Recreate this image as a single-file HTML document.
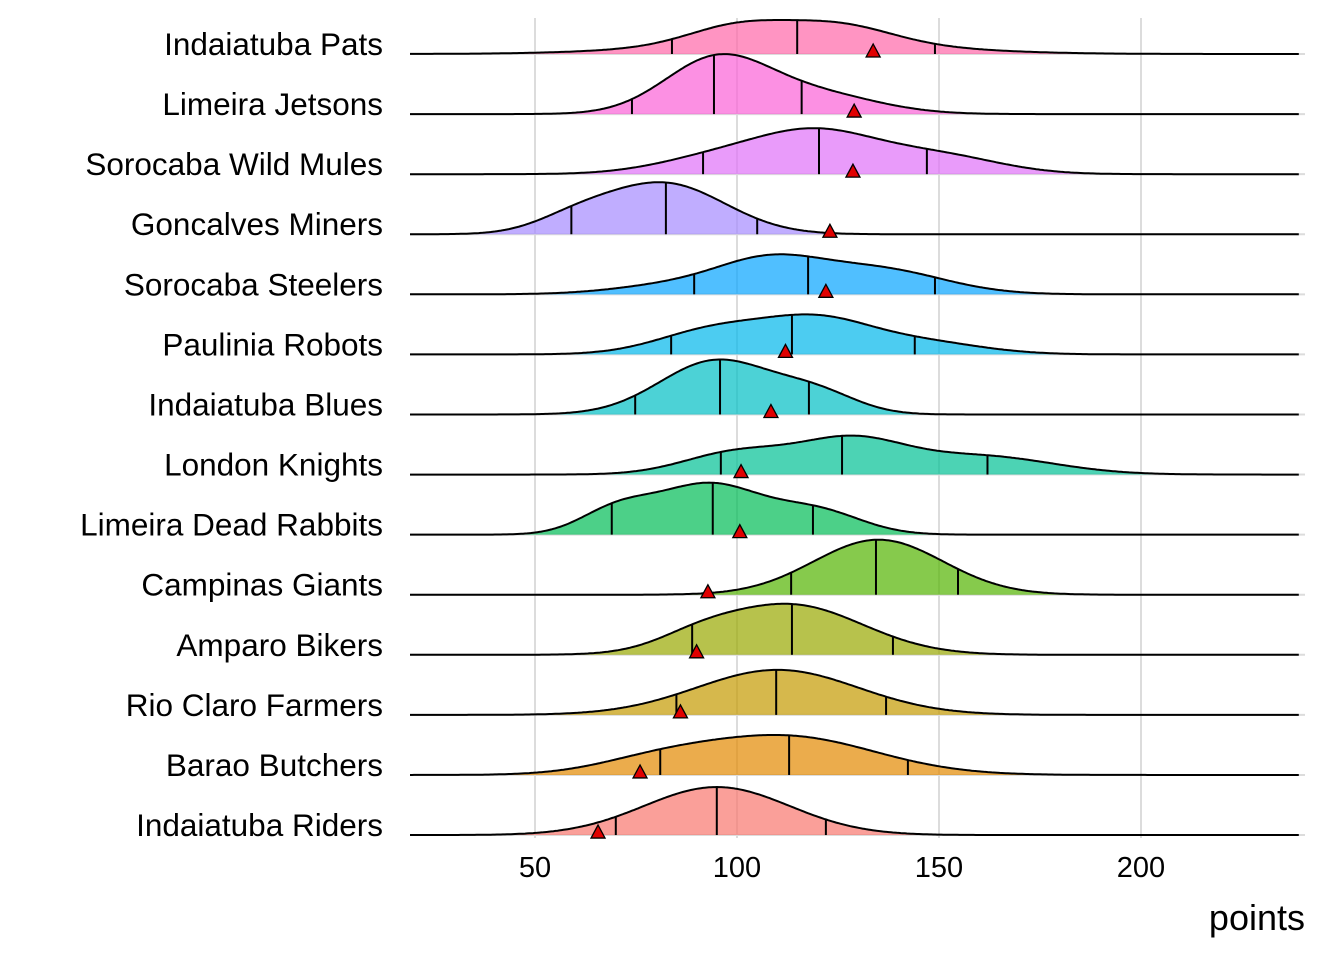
<!DOCTYPE html>
<html><head><meta charset="utf-8"><style>
html,body{margin:0;padding:0;background:#fff;}
svg text{font-family:"Liberation Sans",Arial,sans-serif;fill:#000;}
</style></head><body>
<svg id="s" width="1344" height="960" viewBox="0 0 1344 960" xmlns="http://www.w3.org/2000/svg"></svg>
<script>
var S=document.getElementById('s');
var NS='http://www.w3.org/2000/svg';
function el(t,a,txt){var e=document.createElementNS(NS,t);for(var k in a)e.setAttribute(k,a[k]);if(txt!=null)e.textContent=txt;S.appendChild(e);return e;}
function X(v){return 535+(v-50)*4.04;}
var teams=[
["Indaiatuba Pats",[[100,12,1],[125,13,1],[115,30,0.8]],34,[83.9,114.9,149],133.7,"#FF66A8"],
["Limeira Jetsons",[[95,13,1],[120,15,0.35]],60,[74,94.3,116],129,"#FB61D7"],
["Sorocaba Wild Mules",[[120,15,1],[95,15,0.4],[150,15,0.45]],46,[91.6,120.3,147],128.7,"#DF70F8"],
["Goncalves Miners",[[82,15,1],[60,10,0.25]],52,[59,82.4,105],123,"#A58AFF"],
["Sorocaba Steelers",[[108,13,1],[135,16,0.8],[85,15,0.3]],40,[89.4,117.6,149],122,"#06A4FF"],
["Paulinia Robots",[[95,14,0.8],[120,13,1],[145,15,0.4]],40,[83.7,113.6,144],112,"#00B6EB"],
["Indaiatuba Blues",[[95,14,1],[120,10,0.35]],55,[74.8,95.8,117.8],108.4,"#00BFC4"],
["London Knights",[[100,13,0.6],[128,13,0.9],[160,18,0.5]],39,[96,126,162],101,"#00C094"],
["Limeira Dead Rabbits",[[93,13,1],[70,9,0.45],[120,11,0.45]],52,[69,94,118.8],100.7,"#00BC56"],
["Campinas Giants",[[135,16,1]],55,[113.4,134.4,154.7],92.8,"#53B400"],
["Amparo Bikers",[[113,18,1],[90,10,0.2]],51,[88.9,113.6,138.6],90,"#99A800"],
["Rio Claro Farmers",[[110,20,1]],45,[85,109.7,136.9],86,"#C49A00"],
["Barao Butchers",[[112,22,1],[80,15,0.3]],40,[81,112.9,142.3],76,"#E38900"],
["Indaiatuba Riders",[[95,18,1]],48,[70,95,122],65.6,"#F8766D"]
];
[50,100,150,200].forEach(function(v){el('line',{x1:X(v),x2:X(v),y1:18,y2:838,stroke:'#dcdcdc','stroke-width':2});
el('text',{x:X(v),y:877,'font-size':29,'text-anchor':'middle'},v);});
teams.forEach(function(t,i){var b=54+i*60.08;el('line',{x1:410,x2:1305,y1:b,y2:b,stroke:'#dcdcdc','stroke-width':2});});
function dens(c,v){var s=0;c.forEach(function(g){s+=g[2]*Math.exp(-0.5*Math.pow((v-g[0])/g[1],2));});return s;}
teams.forEach(function(t,i){
 var b=54+i*60.08,c=t[1],mx=0,v;
 for(v=-20;v<=240;v+=0.5)mx=Math.max(mx,dens(c,v));
 var sc=t[2]/mx, v0=(410-535)/4.04+50, v1=(1300-535)/4.04+50;
 function Y(v){return b-dens(c,v)*sc;}
 var pts=[];for(v=v0;v<=v1;v+=0.5)pts.push(X(v).toFixed(1)+','+Y(v).toFixed(1));
 el('path',{d:'M'+X(v0)+','+b+' L'+pts.join(' L')+' L'+X(v1)+','+b+'Z',fill:t[5],'fill-opacity':0.7,stroke:'none'});
 t[3].forEach(function(q){el('line',{x1:X(q),x2:X(q),y1:b,y2:Y(q),stroke:'#000','stroke-width':2});});
 el('path',{d:'M'+pts.join(' L'),fill:'none',stroke:'#000','stroke-width':2});
 var tx=X(t[4]),ty=b-3;
 el('path',{d:'M'+(tx-7)+','+(ty+6)+' L'+(tx+7)+','+(ty+6)+' L'+tx+','+(ty-7)+'Z',fill:'#e00000',stroke:'#000','stroke-width':1.3});
 el('text',{x:383,y:b+1,'font-size':31.5,'text-anchor':'end'},t[0]);
});
el('text',{x:1305,y:930,'font-size':36,'text-anchor':'end'},'points');
</script>
</body></html>
